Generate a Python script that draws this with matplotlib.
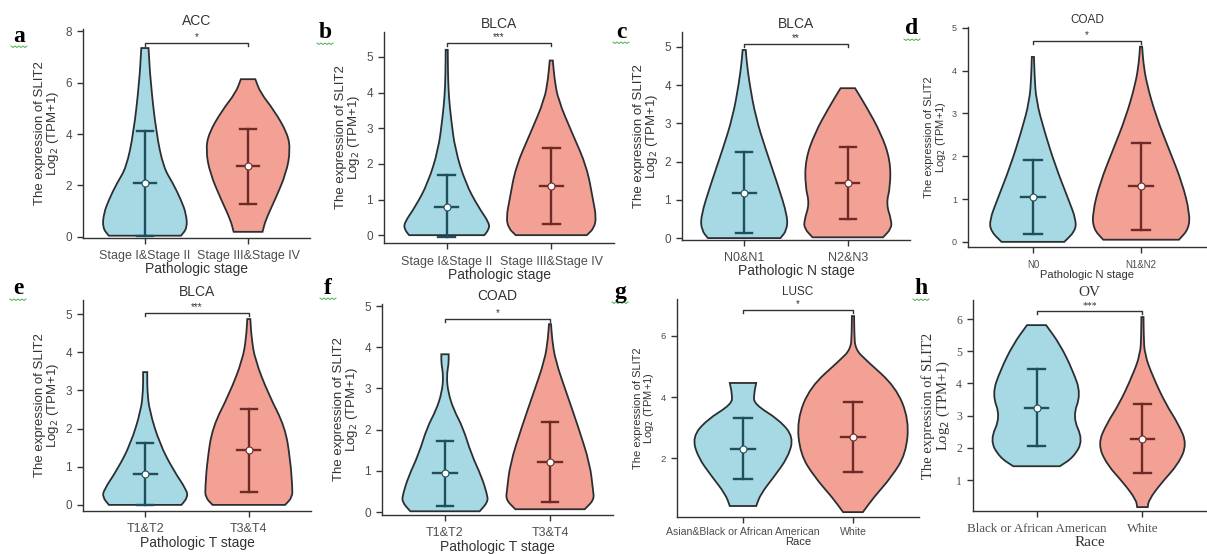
import numpy as np
import matplotlib
matplotlib.use("Agg")
from matplotlib import pyplot as plt
from matplotlib.path import Path
from matplotlib.patches import PathPatch
from matplotlib.lines import Line2D

W, H = 1207, 554

# violin outlines: (expression value, half width in category units), bottom to top
acc_low = [(0.05, 0.35), (0.35, 0.41), (0.9, 0.40), (1.44, 0.35), (2.1, 0.27), (2.7, 0.18),
           (4.04, 0.11), (6.0, 0.055), (7.34, 0.035)]
acc_high = [(0.2, 0.14), (0.66, 0.17), (1.44, 0.26), (2.48, 0.37), (3.38, 0.41), (4.04, 0.38),
            (4.93, 0.25), (5.6, 0.12), (6.13, 0.07)]
blca_stage_low = [(0.0, 0.36), (0.15, 0.40), (0.33, 0.41), (0.8, 0.30), (1.46, 0.18), (2.4, 0.08),
                  (3.3, 0.04), (3.9, 0.02), (4.5, 0.012), (5.2, 0.01)]
blca_stage_high = [(0.0, 0.34), (0.2, 0.41), (0.5, 0.43), (0.98, 0.40), (1.92, 0.34), (2.86, 0.20),
                   (3.8, 0.065), (4.4, 0.03), (4.9, 0.015)]
blca_n_low = [(0.0, 0.35), (0.2, 0.41), (0.56, 0.42), (1.43, 0.32), (2.3, 0.21), (3.17, 0.11),
              (4.06, 0.05), (4.6, 0.025), (4.92, 0.015)]
blca_n_high = [(0.02, 0.34), (0.25, 0.42), (0.47, 0.42), (0.9, 0.37), (1.34, 0.41), (2.04, 0.41),
               (2.74, 0.32), (3.43, 0.18), (3.92, 0.07)]
coad_n_low = [(0.0, 0.29), (0.25, 0.39), (0.51, 0.40), (0.98, 0.33), (1.76, 0.21), (2.55, 0.11),
              (3.3, 0.03), (3.9, 0.015), (4.32, 0.01)]
coad_n_high = [(0.05, 0.35), (0.3, 0.44), (0.67, 0.45), (1.38, 0.38), (2.15, 0.26), (2.92, 0.14),
               (3.71, 0.05), (4.2, 0.02), (4.56, 0.01)]
blca_t_low = [(0.0, 0.35), (0.2, 0.41), (0.39, 0.40), (0.92, 0.27), (1.6, 0.14), (2.48, 0.04),
              (3.0, 0.02), (3.48, 0.02)]
blca_t_high = [(0.0, 0.35), (0.2, 0.42), (0.47, 0.42), (1.18, 0.40), (2.04, 0.35), (2.9, 0.19),
               (3.8, 0.06), (4.4, 0.025), (4.87, 0.015)]
coad_t_low = [(0.02, 0.33), (0.25, 0.41), (0.44, 0.40), (0.85, 0.35), (1.41, 0.25), (2.06, 0.17),
              (2.47, 0.085), (2.9, 0.03), (3.3, 0.015), (3.6, 0.035), (3.83, 0.035)]
coad_t_high = [(0.07, 0.33), (0.3, 0.42), (0.53, 0.41), (1.17, 0.38), (2.06, 0.27), (2.87, 0.16),
               (3.69, 0.05), (4.2, 0.02), (4.56, 0.01)]
lusc_other = [(0.43, 0.12), (0.82, 0.16), (1.38, 0.28), (2.03, 0.41), (2.69, 0.46), (3.25, 0.33),
              (3.77, 0.10), (4.1, 0.10), (4.46, 0.12)]
lusc_white = [(0.23, 0.09), (0.72, 0.19), (1.38, 0.35), (2.13, 0.48), (3.25, 0.51), (4.33, 0.39),
              (5.2, 0.12), (5.57, 0.02), (6.1, 0.012), (6.65, 0.01)]
ov_black = [(1.43, 0.22), (1.71, 0.35), (2.24, 0.44), (2.96, 0.34), (3.67, 0.42), (4.42, 0.34),
            (5.22, 0.22), (5.81, 0.09)]
ov_white = [(0.16, 0.05), (0.38, 0.06), (0.88, 0.17), (1.5, 0.34), (2.12, 0.42), (2.74, 0.34),
            (3.36, 0.22), (4.2, 0.10), (4.9, 0.02), (5.5, 0.012), (6.06, 0.01)]

# summary bars: (lower, median, upper) for each group
acc_stats = [(0.05, 2.1, 4.1), (1.3, 2.75, 4.2)]
blca_stage_stats = [(-0.05, 0.8, 1.7), (0.3, 1.38, 2.45)]
blca_n_stats = [(0.12, 1.18, 2.25), (0.5, 1.43, 2.38)]
coad_n_stats = [(0.18, 1.05, 1.92), (0.27, 1.3, 2.32)]
blca_t_stats = [(0.0, 0.8, 1.62), (0.35, 1.44, 2.52)]
coad_t_stats = [(0.15, 0.95, 1.73), (0.25, 1.22, 2.18)]
lusc_stats = [(1.3, 2.3, 3.3), (1.55, 2.7, 3.85)]
ov_stats = [(2.05, 3.25, 4.45), (1.22, 2.28, 3.35)]

# significance bracket height and label
brackets = [(7.53, "*"), (5.39, "***"), (5.08, "**"), (4.7, "*"),
            (5.03, "***"), (4.68, "*"), (6.85, "*"), (6.25, "***")]

titles = ["ACC", "BLCA", "BLCA", "COAD", "BLCA", "COAD", "LUSC", "OV"]
letters = ["a", "b", "c", "d", "e", "f", "g", "h"]
stage_groups = ["Stage I&Stage II", "Stage III&Stage IV"]
groups = [stage_groups, stage_groups, ["N0&N1", "N2&N3"], ["N0", "N1&N2"],
          ["T1&T2", "T3&T4"], ["T1&T2", "T3&T4"],
          ["Asian&Black or African American", "White"], ["Black or African American", "White"]]
xlabels = ["Pathologic stage", "Pathologic stage", "Pathologic N stage", "Pathologic N stage",
           "Pathologic T stage", "Pathologic T stage", "Race", "Race"]
yticks = [[0, 2, 4, 6, 8], range(6), range(6), range(6), range(6), range(6), [2, 4, 6], range(1, 7)]
ylims = [(-0.04, 8.08), (-0.22, 5.7), (-0.05, 5.39), (-0.12, 5.02),
         (-0.16, 5.37), (-0.07, 5.05), (0.07, 7.21), (0.04, 6.59)]

violins = [(acc_low, acc_high), (blca_stage_low, blca_stage_high), (blca_n_low, blca_n_high),
           (coad_n_low, coad_n_high), (blca_t_low, blca_t_high), (coad_t_low, coad_t_high),
           (lusc_other, lusc_white), (ov_black, ov_white)]
stats = [acc_stats, blca_stage_stats, blca_n_stats, coad_n_stats,
         blca_t_stats, coad_t_stats, lusc_stats, ov_stats]

# axes boxes in pixels: left, top, right, bottom
boxes = [(83, 29, 310, 238), (384, 32, 614, 243), (682, 32, 910, 240), (968, 27, 1206, 247),
         (83, 300, 311, 511), (382, 304, 613, 515), (677, 299, 919, 517), (973, 300, 1206, 511)]
letter_pos = [(19, 36), (325, 33), (621, 32), (912, 29), (18, 289), (328, 288), (620, 292), (921, 289)]

# per panel text sizes and x tick padding
xtick_fs = [9, 9, 9, 7, 9, 9, 7.6, 9.4]
ytick_fs = [8.5, 8.5, 8.5, 6.5, 8.5, 8.5, 6.8, 8.5]
ylabel_fs = [9.5, 9.5, 9.5, 8, 9.5, 9.5, 8, 10.5]
xlabel_fs = [10, 10, 10, 8, 10, 10, 8, 11]
title_fs = [10, 10, 10, 8.5, 10, 10, 8.5, 11]
xpads = [5, 5, 5, 5, 5, 5, 3, 5]

fills = ["#a6d9e4", "#f3a194"]
bars = ["#1f4f5a", "#6e2a25"]
edge = "#2b2f33"


def smooth_side(pts):
    # quadratic bezier through the midpoints of the outline points
    verts = [pts[0], ((pts[0][0] + pts[1][0]) / 2, (pts[0][1] + pts[1][1]) / 2)]
    codes = [Path.LINETO, Path.LINETO]
    for i in range(1, len(pts) - 1):
        mid = ((pts[i][0] + pts[i + 1][0]) / 2, (pts[i][1] + pts[i + 1][1]) / 2)
        verts += [pts[i], mid]
        codes += [Path.CURVE3, Path.CURVE3]
    verts.append(pts[-1])
    codes.append(Path.LINETO)
    return verts, codes


def violin(ax, pos, profile, color):
    right = [(pos + w, y) for y, w in profile]
    left = [(pos - w, y) for y, w in profile[::-1]]
    v1, c1 = smooth_side(right)
    v2, c2 = smooth_side(left)
    verts = v1 + v2 + [v1[0]]
    codes = [Path.MOVETO] + c1[1:] + c2 + [Path.CLOSEPOLY]
    ax.add_patch(PathPatch(Path(verts, codes), facecolor=color, edgecolor=edge, lw=1.3, zorder=2))


fig = plt.figure(figsize=(W / 100, H / 100), dpi=100)

for i in range(8):
    l, t, r, b = boxes[i]
    ax = fig.add_axes([l / W, 1 - b / H, (r - l) / W, (b - t) / H])
    fam = "Liberation Serif" if i == 7 else "Liberation Sans"

    for k in range(2):
        violin(ax, k + 1, violins[i][k], fills[k])
        lo, med, hi = stats[i][k]
        ax.plot([k + 1, k + 1], [lo, hi], color=bars[k], lw=1.7, zorder=3)
        ax.plot([k + 0.92, k + 1.08], [lo, lo], color=bars[k], lw=1.7, zorder=3)
        ax.plot([k + 0.92, k + 1.08], [hi, hi], color=bars[k], lw=1.7, zorder=3)
        ax.plot([k + 0.89, k + 1.11], [med, med], color=bars[k], lw=1.7, zorder=3)
        ax.plot(k + 1, med, "o", ms=5, mfc="white", mec=bars[k], mew=0.8, zorder=4)

    by, star = brackets[i]
    drop = 0.015 * (ylims[i][1] - ylims[i][0])
    ax.plot([1, 1, 2, 2], [by - drop, by, by, by - drop], color="#333333", lw=1.0, clip_on=False)
    ax.text(1.5, by + drop * 0.3, star, ha="center", va="bottom", fontsize=7, color="#333333",
            family=fam)

    ax.set_xlim(0.4, 2.6)
    ax.set_ylim(*ylims[i])
    ax.set_yticks(list(yticks[i]))
    ax.set_xticks([1, 2])
    ax.set_xticklabels(groups[i], family=fam, fontsize=xtick_fs[i])
    ax.set_yticklabels([str(v) for v in yticks[i]], family=fam, fontsize=ytick_fs[i])
    ax.tick_params(colors="#333333", labelcolor="#4d4d4d", length=4, width=1)
    ax.tick_params(axis="x", pad=xpads[i])
    ax.tick_params(axis="y", pad=4)
    for s in ("top", "right"):
        ax.spines[s].set_visible(False)
    for s in ("left", "bottom"):
        ax.spines[s].set_color("#333333")
        ax.spines[s].set_linewidth(1.0)
    ax.set_xlabel(xlabels[i], family=fam, fontsize=xlabel_fs[i], color="#333333", labelpad=0)
    ax.set_ylabel("The expression of SLIT2\nLog$_2$ (TPM+1)", family=fam, fontsize=ylabel_fs[i],
                  color="#333333", labelpad=3, linespacing=0.95)
    ax.set_title(titles[i], family=fam, fontsize=title_fs[i], color="#333333", pad=3)

    # panel letter with the green squiggle beneath it
    lx, ly = letter_pos[i]
    fig.text(lx / W, 1 - ly / H, letters[i], family="Liberation Serif", fontweight="bold",
             fontsize=17, ha="center", va="center")
    zx = lx - 8 + np.arange(9) * 2
    zy = ly + 10 + np.tile([0, 1.5], 5)[:9]
    fig.add_artist(Line2D(zx / W, 1 - zy / H, color="#4caf50", lw=0.7))

fig.savefig("out.png", dpi=100)
